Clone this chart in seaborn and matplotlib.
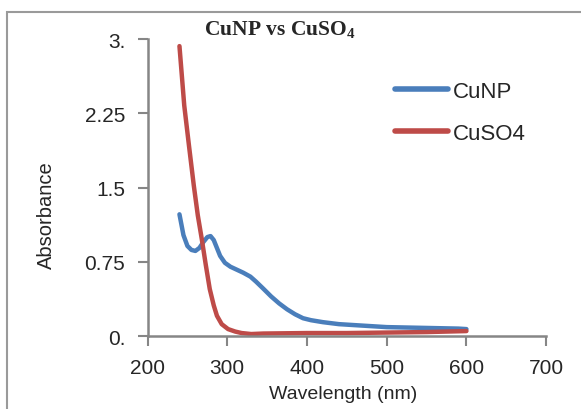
import numpy as np
import pandas as pd
import seaborn as sns
from matplotlib import pyplot as plt
from matplotlib.patches import Rectangle


# values
cunp_wl = [240, 245, 250, 255, 260, 265, 270, 275, 279, 283, 287, 291, 297, 304,
           312, 320, 329, 336, 345, 355, 365, 375, 385, 395, 405, 420, 440, 460,
           480, 500, 530, 560, 590, 600]
cunp_abs = [1.23, 1.02, 0.91, 0.87, 0.86, 0.89, 0.95, 1.00, 1.01, 0.97, 0.89, 0.81,
            0.74, 0.70, 0.67, 0.64, 0.60, 0.55, 0.48, 0.40, 0.33, 0.27, 0.22, 0.18,
            0.16, 0.14, 0.12, 0.11, 0.10, 0.09, 0.085, 0.08, 0.075, 0.07]

cuso4_wl = [240, 246, 252, 258, 263, 268, 273, 278, 283, 287, 293, 301, 310, 318,
            330, 345, 400, 450, 500, 550, 600]
cuso4_abs = [2.93, 2.33, 1.92, 1.52, 1.22, 0.98, 0.72, 0.475, 0.31, 0.205, 0.12,
             0.07, 0.045, 0.03, 0.02, 0.025, 0.03, 0.03, 0.035, 0.04, 0.05]

x_ticks = [200, 300, 400, 500, 600, 700]
y_ticks = [0, 0.75, 1.5, 2.25, 3.0]
y_tick_labels = ["0.", "0.75", "1.5", "2.25", "3."]

df = pd.concat([
    pd.DataFrame({"Wavelength": cunp_wl, "Absorbance": cunp_abs, "Sample": "CuNP"}),
    pd.DataFrame({"Wavelength": cuso4_wl, "Absorbance": cuso4_abs, "Sample": "CuSO4"}),
])

sns.set_style("white")
plt.rcParams['font.family'] = ['Liberation Sans', 'DejaVu Sans']

fig = plt.figure(figsize=(5.81, 4.10), dpi=100)
ax = fig.add_axes([0.254, 0.178, 0.686, 0.724])

sns.lineplot(data=df, x="Wavelength", y="Absorbance", hue="Sample",
             palette={"CuNP": "#4A7EBB", "CuSO4": "#BE4B48"},
             linewidth=3.2, estimator=None, sort=False, ax=ax)

ax.set_xlim(200, 700)
ax.set_ylim(0, 3.0)
ax.set_xticks(x_ticks)
ax.set_xticklabels([str(t) for t in x_ticks])
ax.set_yticks(y_ticks)
ax.set_yticklabels(y_tick_labels)

for side in ["top", "right"]:
    ax.spines[side].set_visible(False)
for side in ["left", "bottom"]:
    ax.spines[side].set_color("#868686")
    ax.spines[side].set_linewidth(1.8)
ax.tick_params(axis="both", direction="out", length=7, width=1.5, color="#868686",
               labelsize=15, pad=9, left=True, bottom=True)

ax.set_xlabel("Wavelength (nm)", fontsize=14)
ax.set_ylabel("Absorbance", fontsize=14.5)
ax.xaxis.set_label_coords(0.49, -0.165)
ax.yaxis.set_label_coords(-0.23, 0.41)

leg = ax.legend(frameon=False, fontsize=16, handlelength=2.4, handletextpad=0.2,
                labelspacing=0.95, borderpad=0, borderaxespad=0, loc="center left",
                bbox_to_anchor=(395 / 581, 1 - 113.5 / 410),
                bbox_transform=fig.transFigure)
for line in leg.get_lines():
    line.set_linewidth(4)

plt.rcParams['mathtext.fontset'] = 'custom'
plt.rcParams['mathtext.rm'] = 'Liberation Serif:bold'
fig.text(280 / 581, 1 - 30 / 410, r"CuNP vs CuSO$_\mathrm{4}$", ha="center", va="center",
         fontsize=15.5, fontweight="bold", family="Liberation Serif")

fig.patches.append(Rectangle((7 / 581, -0.1), 1.2, 1.1 - 13 / 410, transform=fig.transFigure,
                             fill=False, edgecolor="#9a9a9a", linewidth=1.5))

fig.savefig("out.png", dpi=100)
